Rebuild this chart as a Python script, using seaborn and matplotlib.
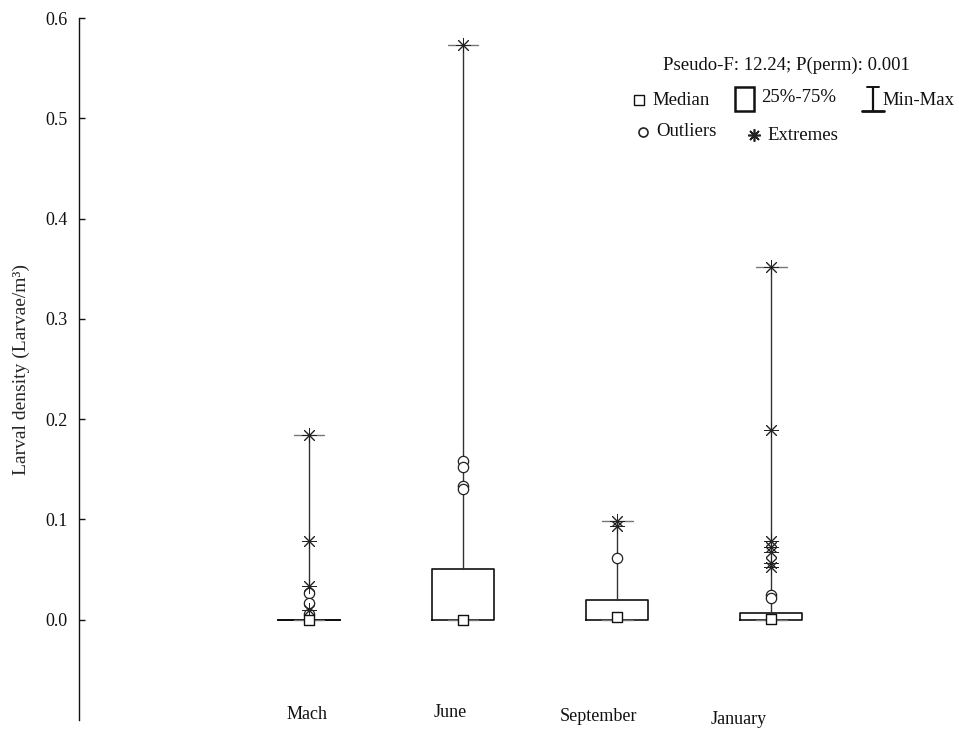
import matplotlib
matplotlib.use("Agg")
import matplotlib.pyplot as plt
from matplotlib.lines import Line2D
from matplotlib.patches import Rectangle
import seaborn as sns
import pandas as pd
import numpy as np

# box statistics (larvae/m3)
months = ["Mach", "June", "September", "January"]
q1 = [0.0, 0.0, 0.0, 0.0]
q3 = [0.0, 0.051, 0.020, 0.007]
medians = [0.0, 0.0, 0.003, 0.001]
whisk_lo = [0.0, 0.0, 0.0, 0.0]
whisk_hi = [0.184, 0.573, 0.098, 0.352]

outliers_mach = [0.027, 0.017, 0.006]
outliers_june = [0.158, 0.152, 0.133, 0.130]
outliers_sept = [0.062]
outliers_jan = [0.025, 0.022]

extremes_mach = [0.184, 0.078, 0.034, 0.010]
extremes_june = [0.573]
extremes_sept = [0.098, 0.093]
extremes_jan = [0.352, 0.189, 0.078, 0.073, 0.068, 0.057, 0.053]

yticks = [0.0, 0.1, 0.2, 0.3, 0.4, 0.5, 0.6]

sns.set_theme(style="ticks")
plt.rcParams["font.family"] = ["Liberation Serif", "DejaVu Serif"]

pos = np.arange(len(months))

out_df = pd.DataFrame({
    "pos": np.repeat(pos, [len(outliers_mach), len(outliers_june), len(outliers_sept), len(outliers_jan)]),
    "value": outliers_mach + outliers_june + outliers_sept + outliers_jan,
})
ext_df = pd.DataFrame({
    "pos": np.repeat(pos, [len(extremes_mach), len(extremes_june), len(extremes_sept), len(extremes_jan)]),
    "value": extremes_mach + extremes_june + extremes_sept + extremes_jan,
})
med_df = pd.DataFrame({"pos": pos, "value": medians})

fig = plt.figure(figsize=(9.59, 7.29), dpi=100)
ax = fig.add_axes([79 / 959, 9 / 729, 880 / 959, 702 / 729])

stats = []
for i in range(len(months)):
    stats.append({"med": medians[i], "q1": q1[i], "q3": q3[i],
                  "whislo": whisk_lo[i], "whishi": whisk_hi[i], "fliers": []})

ax.bxp(stats, positions=pos, widths=0.4, capwidths=0.2, showfliers=False,
       boxprops=dict(color="#111111", linewidth=1.2),
       whiskerprops=dict(color="#333333", linewidth=1.0),
       capprops=dict(color="#777777", linewidth=1.0),
       medianprops=dict(linewidth=0))

sns.scatterplot(data=out_df, x="pos", y="value", ax=ax, marker="o", s=55,
                facecolor="white", edgecolor="#222222", linewidth=0.9, zorder=4)
sns.scatterplot(data=ext_df, x="pos", y="value", ax=ax, marker=(8, 2, 0), s=105,
                color="#222222", linewidth=0.7, zorder=4)
sns.scatterplot(data=med_df, x="pos", y="value", ax=ax, marker="s", s=58,
                facecolor="white", edgecolor="#111111", linewidth=1.0, zorder=5)

ax.set_xlim(-1.494, 4.22)
ax.set_ylim(-0.1, 0.6)
ax.set_yticks(yticks)
ax.set_yticklabels([f"{t:.1f}" for t in yticks])
ax.set_xticks([])
ax.set_xlabel("")
ax.set_ylabel("Larval density (Larvae/m³)", fontsize=14, labelpad=11)
ax.tick_params(axis="y", direction="in", length=4, width=1, labelsize=13, colors="#111111", pad=8)
for s in ["top", "right", "bottom"]:
    ax.spines[s].set_visible(False)
ax.spines["left"].set_color("#111111")
ax.spines["left"].set_linewidth(1.0)
ax.patch.set_alpha(0)

# month labels sit slightly off the boxes, as in the original
label_dx = [-0.013, -0.084, -0.123, -0.208]
label_y = [-0.0947, -0.0927, -0.0967, -0.0997]
for i, m in enumerate(months):
    ax.text(pos[i] + label_dx[i], label_y[i], m, ha="center", va="center",
            fontsize=13, color="#111111")

# legend block drawn in pixel space
lg = fig.add_axes([0, 0, 1, 1], zorder=10)
lg.set_xlim(0, 959)
lg.set_ylim(729, 0)
lg.axis("off")
fs = 13.5
lg.text(786, 65, "Pseudo-F: 12.24; P(perm): 0.001", ha="center", va="center", fontsize=fs, color="#111111")
lg.plot([639], [100], marker="s", ms=7.5, mfc="white", mec="#111111", mew=1.0)
lg.text(652, 100, "Median", ha="left", va="center", fontsize=fs, color="#111111")
lg.add_patch(Rectangle((735, 87), 19, 24, fill=False, ec="#111111", lw=1.8))
lg.text(761, 97, "25%-75%", ha="left", va="center", fontsize=fs, color="#111111")
lg.add_line(Line2D([873, 873], [87, 111], color="#111111", lw=1.6))
lg.add_line(Line2D([867, 879], [87, 87], color="#111111", lw=1.4))
lg.add_line(Line2D([862, 884], [111, 111], color="#111111", lw=2.0))
lg.text(882, 100, "Min-Max", ha="left", va="center", fontsize=fs, color="#111111")
lg.plot([643], [132], marker="o", ms=6.5, mfc="white", mec="#222222", mew=1.2)
lg.text(656, 131, "Outliers", ha="left", va="center", fontsize=fs, color="#111111")
lg.plot([754], [135], marker=(8, 2, 0), ms=9, color="#222222", mew=1.2)
lg.text(767, 135, "Extremes", ha="left", va="center", fontsize=fs, color="#111111")

fig.savefig("out.png", dpi=100, facecolor="white")
